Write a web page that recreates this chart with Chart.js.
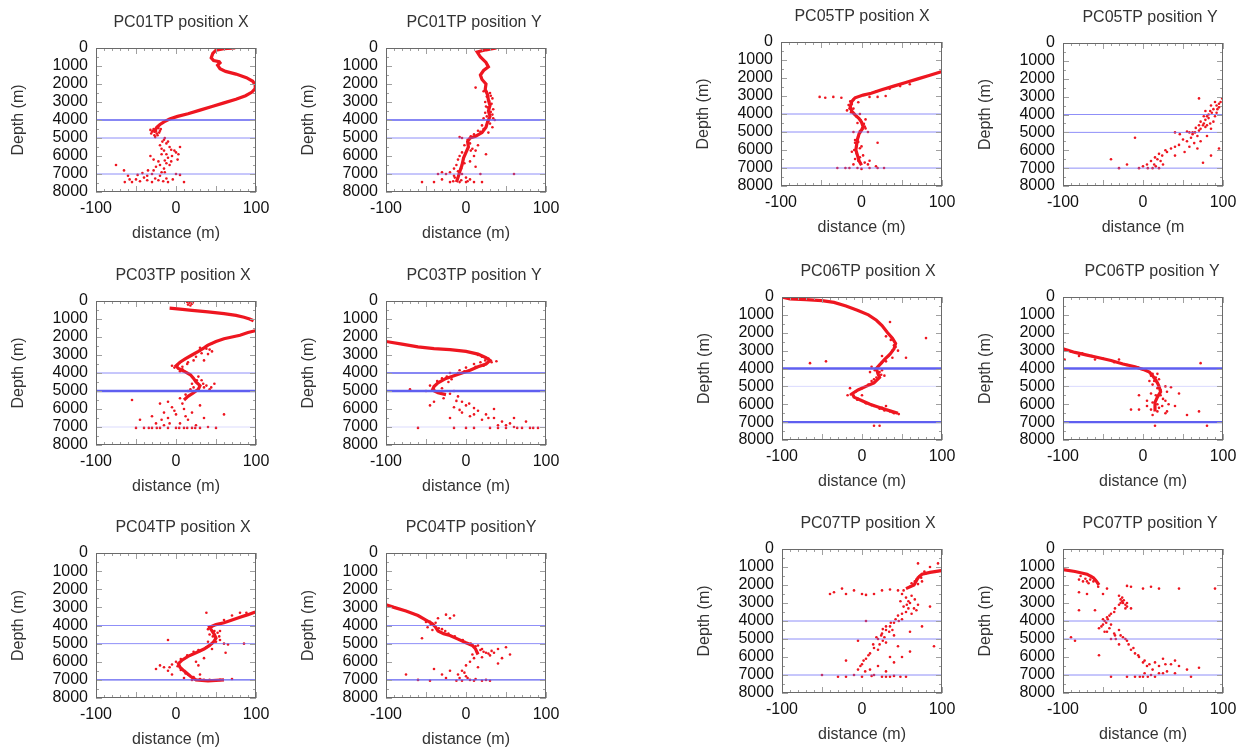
<!DOCTYPE html>
<html>
<head>
<meta charset="utf-8">
<script src="https://cdn.jsdelivr.net/npm/chart.js@4.4.1/dist/chart.umd.min.js"></script>
<style>
  body { margin: 0; background: #fff; overflow: hidden; width: 1258px; height: 754px; position: relative; }
  canvas { position: absolute; }
</style>
</head>
<body>
<script>
// axis ranges and reference depths (m)
const distRange = [-100, 100];
const depthRange = [0, 8000];
const markerDepths = [4000, 5000, 7000];

// [distance, depth] pairs
const pc01xPath = [[74,0],[60,40],[50,120],[46,300],[44,550],[47,700],[54,760],[55,820],[52,950],[55,1150],[62,1300],[75,1450],[88,1650],[96,1850],[99,2050],[99,2250],[95,2450],[87,2650],[75,2850],[60,3050],[45,3250],[30,3450],[15,3650],[2,3800],[-8,3950],[-15,4100],[-20,4250],[-24,4400],[-26,4550],[-25,4700]];
const pc01xCloud = [[-28,4500],[-22,4450],[-30,4650],[-24,4750],[-27,4850],[-20,4600],[-32,4550],[-26,4950],[-15,5100],[-12,5300],[-20,5400],[-8,5500],[5,5500],[-15,5700],[0,5800],[-5,6000],[-18,5900],[-10,6100],[2,6200],[-22,6300],[-12,6400],[-25,6600],[-15,6700],[-8,6500],[-35,6800],[-30,7000],[-20,7100],[-40,7200],[-50,7300],[-60,7100],[-65,6800],[-64,7450],[-55,7450],[-45,7400],[-30,7450],[-22,7350],[-10,7450],[0,7000],[5,7050],[10,7450],[-75,6500],[-28,6200],[-32,6000],[-18,6900],[-36,7100],[-12,7250],[-17,5200],[-6,5650],[3,5900],[-14,6250],[-26,7250],[-48,7050],
  [-23,4400],[-29,4600],[-21,4700],[-25,4550],[-31,4750],[-19,4500],[-27,4650],[-23,4850],[-14,5000],[-10,5200],[-18,5600],[-2,5700],[-12,5900],[-6,6300],[-20,6500],[-28,6800],[-14,6900],[-42,6950],[-58,7300],[-36,7350],[-16,7400],[-4,7300]];

const pc01yPath = [[38,0],[25,100],[14,220],[18,500],[25,800],[28,1050],[22,1250],[18,1500],[20,1750],[25,2000],[24,2300],[27,2600],[28,2900],[30,3200],[28,3500],[30,3800],[27,4100],[25,4400],[20,4700],[12,4900],[5,5000],[2,5200],[3,5500],[0,5800],[-3,6100],[-5,6500],[-8,6900],[-10,7200],[-12,7450]];
const pc01yCloud = [[22,2400],[30,2500],[26,2700],[33,2800],[24,3000],[32,3100],[27,3300],[34,3400],[24,3600],[33,3700],[22,3900],[36,4000],[30,4200],[20,4300],[33,4400],[15,4600],[28,4700],[10,4800],[-5,5000],[-8,4950],[5,5300],[8,5600],[12,5700],[-5,5800],[10,6000],[-10,6200],[5,6300],[-12,6500],[-15,6700],[-20,6900],[-25,7000],[-15,7100],[-5,7000],[0,7200],[5,7300],[10,7450],[20,7450],[-30,7300],[-20,7450],[-40,7450],[-55,7450],[-30,6900],[12,6600],[18,7000],[25,5900],[15,5400],[60,7000],[-8,7450],[0,7450],[12,2200],[-35,7000],
  [26,2450],[31,2650],[29,2950],[25,3250],[31,3550],[26,3800],[34,3900],[28,4050],[22,4500],[18,4650],[6,4900],[2,5100],[-2,5400],[6,5700],[-8,6000],[-2,6400],[-6,6700],[-10,6850],[-14,7200],[-6,7350],[2,7400],[-16,7400]];

const pc03xTop = [[14,50],[17,100],[20,150],[15,200],[18,250],[21,80]];
const pc03xPathA = [[-8,400],[5,450],[20,520],[40,600],[60,700],[75,800],[85,900],[92,1000],[97,1100]];
const pc03xPathB = [[99,1650],[90,1750],[80,1900],[70,2000],[60,2100],[50,2250],[40,2450],[35,2600],[28,2800],[20,3000],[12,3200],[5,3400],[0,3600],[3,3750],[10,3900],[18,4100],[22,4300],[25,4500],[30,4700],[28,4900],[22,5100],[15,5300],[10,5500]];
const pc03xCloud = [[38,2500],[42,2700],[32,2900],[45,2800],[25,3100],[35,3300],[15,3400],[8,3650],[-5,3600],[5,3900],[28,4200],[32,4400],[20,4600],[35,4800],[42,4900],[15,5000],[48,4600],[5,5400],[-10,5600],[-20,5700],[-5,5900],[10,6000],[-15,6200],[0,6300],[20,6200],[30,5800],[-30,6400],[-10,6500],[15,6600],[35,6500],[-25,6800],[5,6800],[25,6900],[-40,7050],[-30,7050],[-20,7050],[-10,7050],[0,7050],[10,7050],[20,7050],[30,7050],[50,7050],[-50,7050],[-45,6600],[60,6300],[-55,5500],[-15,6900],[40,7000],[30,2600],[22,4800],
  [45,2350],[38,2650],[30,2750],[40,2950],[22,3300],[14,3500],[-2,3700],[2,3550],[8,3800],[26,4400],[34,4600],[38,4700],[44,4800],[18,4900],[12,5200],[8,5700],[-2,6100],[-18,6600],[12,6400],[-8,6800],[-34,7050],[-24,7050],[4,7050],[14,7050],[24,7050]];

const pc03yPath = [[-100,2250],[-80,2400],[-60,2550],[-40,2650],[-20,2700],[0,2800],[15,2950],[25,3150],[30,3300],[25,3500],[15,3650],[5,3850],[-5,4000],[-15,4150],[-25,4300],[-35,4550],[-40,4750],[-42,4950],[-35,5100],[-25,5200]];
const pc03yCloud = [[20,3100],[28,3200],[18,3400],[32,3400],[10,3500],[22,3600],[0,3700],[-8,3850],[-20,4000],[-12,4100],[-30,4300],[-22,4500],[-45,4700],[-30,4850],[-15,5000],[-50,5000],[-10,5300],[-28,5400],[-5,5600],[0,5800],[-15,5900],[10,5950],[-5,6200],[5,6400],[15,6100],[25,6300],[20,6600],[35,6500],[45,6700],[40,6900],[55,6800],[60,7000],[70,7050],[80,7050],[90,7050],[50,7050],[30,7050],[0,7050],[-15,7050],[35,6000],[-45,5800],[-60,7050],[-70,4900],[-40,5600],[60,6500],[75,6700],[-20,6500],[38,3350],
  [15,3000],[24,3300],[12,3650],[-2,3900],[-10,4000],[-24,4200],[-18,4350],[-36,4450],[-40,4900],[-32,5050],[-20,5150],[-12,5550],[4,5700],[-8,6050],[10,6300],[28,6500],[50,6900],[64,7050],[84,7050],[40,7050],[10,7050]];

const pc04xPath = [[99,3250],[90,3400],[80,3550],[70,3700],[60,3850],[50,3950],[42,4100],[45,4300],[48,4500],[50,4700],[47,4900],[42,5100],[35,5300],[25,5500],[15,5700],[8,5900],[3,6100],[5,6300],[10,6500],[18,6800],[25,7000],[40,7050],[60,7000]];
const pc04xCloud = [[40,4200],[52,4400],[46,4600],[55,4800],[60,5000],[40,4900],[30,5400],[20,5600],[35,5800],[25,6000],[28,6200],[-5,6150],[-15,6300],[-25,6400],[-10,6500],[-5,6700],[10,6900],[15,6700],[30,6700],[35,7000],[50,7050],[70,6950],[80,3300],[85,5000],[38,3300],[62,5500],[-10,4800],[55,4300],[65,5050],[45,5300],
  [44,4100],[48,4300],[42,4500],[54,4600],[50,4900],[45,5000],[38,5200],[28,5350],[22,5450],[14,5650],[6,5850],[0,6000],[2,6250],[6,6450],[12,6650],[22,6850],[30,6950],[42,7000],[55,7000],[20,7000],[70,3450],[88,3300],[60,3700],[-8,6300],[-20,6200]];

const pc04yPath = [[-100,2850],[-90,3000],[-75,3200],[-60,3450],[-50,3700],[-42,3900],[-38,4100],[-35,4300],[-28,4450],[-20,4550],[-10,4750],[0,4950],[8,5100],[12,5300],[15,5600]];
const pc04yCloud = [[-45,3800],[-40,4000],[-35,3600],[-30,4200],[-48,4100],[-25,3400],[-20,3600],[15,5100],[20,5300],[25,5500],[30,5650],[35,5500],[40,5300],[45,5800],[50,5200],[10,5800],[5,6000],[0,6200],[-5,6500],[-10,6700],[0,6800],[5,7000],[-5,7050],[10,7050],[20,7050],[25,7000],[30,7050],[-20,6500],[-30,6700],[-40,6400],[-45,7050],[-60,7000],[-75,6700],[15,6300],[40,6100],[55,5600],[-55,4700],[-15,3450],
  [-50,3800],[-44,3950],[-38,3850],[-34,4150],[-42,4250],[-26,4300],[-22,4450],[-14,4600],[-4,4800],[6,5000],[12,5150],[18,5350],[22,5450],[28,5550],[32,5400],[14,5500],[8,5600],[20,5750],[-8,6900],[2,6900],[12,6950],[-12,7050],[-2,6600],[-25,6900]];

const pc05xPath = [[99,1650],[85,1850],[70,2050],[55,2250],[40,2450],[25,2650],[12,2850],[2,2950],[-8,3100],[-12,3300],[-14,3600],[-12,3850],[-8,4050],[-3,4250],[0,4450],[2,4700],[0,4900],[-3,5100],[-5,5400],[-6,5700],[-7,6000],[-5,6300],[-3,6600],[0,6850]];
const pc05xCloud = [[-52,3050],[-45,3100],[-35,3050],[-25,3100],[10,3050],[20,3050],[30,3000],[-10,3200],[-16,3500],[-10,3700],[-18,3800],[5,4300],[-5,4500],[5,4800],[8,5000],[-10,5000],[-8,5600],[0,5800],[-12,6100],[2,6300],[-8,6500],[10,6600],[18,6900],[20,7000],[28,7000],[-30,7000],[-15,7000],[0,7050],[8,6800],[-10,6800],[20,5600],[-4,3350],[-2,4000],
  [-14,3300],[-12,3450],[-15,3700],[-13,3900],[-6,4150],[-1,4350],[3,4550],[4,4700],[1,4850],[-2,4950],[-4,5250],[-8,5450],[-4,5550],[-2,5900],[-9,6000],[-6,6200],[-2,6400],[-4,6600],[-1,6750],[4,6700],[-20,7000],[10,7000],[-5,7000],[60,2350],[48,2450],[35,2600],[18,2750]];

const pc05yCloud = [[99,3100],[95,3400],[88,3700],[82,4000],[78,4300],[75,4600],[70,4900],[62,5000],[90,3300],[85,3500],[95,3600],[78,3800],[92,3900],[82,4200],[88,4400],[72,4400],[78,4700],[85,4800],[70,4600],[65,5000],[55,4950],[40,5000],[60,5300],[50,5400],[45,5700],[58,5800],[68,5900],[72,5500],[35,5900],[30,6100],[20,6200],[15,6400],[10,6600],[5,6800],[12,7000],[20,7000],[25,6800],[0,6900],[-5,7000],[-20,6800],[-30,7000],[-40,6500],[95,5900],[85,6300],[75,6700],[70,3100],[-10,5300],[40,6300],[52,6100],[80,5200],[86,3900],[76,4500],[80,4100],[92,3500],
  [97,3300],[93,3700],[84,3800],[90,4100],[76,4100],[84,4500],[80,4600],[72,4800],[66,4750],[58,5000],[46,5100],[62,5100],[68,5200],[55,5500],[64,5600],[40,5800],[28,6000],[24,6300],[18,6500],[14,6800],[6,7000],[16,6900],[22,6600]];

const pc06xPath = [[-100,0],[-90,100],[-70,150],[-50,200],[-35,300],[-20,500],[-5,750],[8,1000],[18,1300],[25,1600],[32,2000],[38,2300],[42,2600],[40,2900],[35,3200],[28,3500],[22,3800],[18,4000],[20,4300],[22,4500],[15,4800],[5,5000],[-5,5200],[-12,5400],[-10,5600],[0,5800],[10,6000],[20,6150],[30,6300],[45,6500]];
const pc06xCloud = [[35,1400],[42,2800],[45,3000],[38,3400],[25,3300],[12,3900],[25,4100],[10,4200],[28,4400],[15,4600],[-18,5500],[-5,5700],[5,5950],[15,6100],[25,6200],[35,6400],[40,6500],[30,6100],[-45,3600],[-65,3700],[55,3400],[80,2300],[15,7200],[22,7200],[0,5500],[-15,5100],
  [30,2200],[36,2400],[40,2700],[38,3000],[33,3300],[30,3600],[24,3700],[20,3900],[16,4100],[22,4200],[24,4350],[18,4500],[12,4700],[8,4900],[0,5100],[-8,5300],[-14,5450],[-6,5750],[4,5900],[12,6050],[22,6250],[28,6350],[38,6450],[46,6550]];

const pc06yPath = [[-100,2900],[-85,3100],[-70,3250],[-55,3400],[-40,3550],[-25,3750],[-10,3900],[0,4050],[8,4200],[12,4400],[15,4600],[18,4800],[20,5000],[22,5300],[18,5600],[15,5900],[15,6400]];
const pc06yCloud = [[-98,3500],[-80,3300],[-60,3500],[-30,3500],[10,4400],[18,4300],[8,4700],[20,4600],[28,5000],[35,5050],[30,5300],[10,5400],[5,5800],[25,5700],[32,6000],[40,6100],[45,5400],[20,6200],[5,6100],[-5,6300],[-15,6300],[12,6600],[30,6400],[55,6600],[70,6400],[72,3700],[80,7200],[15,7200],[-5,5500],
  [-90,3050],[-76,3150],[-64,3300],[-50,3450],[-36,3650],[-20,3800],[-6,3950],[4,4100],[12,4300],[16,4500],[14,4700],[12,4900],[18,5100],[22,5200],[16,5500],[22,5500],[28,5800],[12,5900],[18,6000],[24,6100],[10,6300],[18,6400],[28,6500]];

const pc07xPath = [[99,1200],[85,1300],[75,1400],[70,1600],[65,2000],[55,2200]];
const pc07xCloud = [[80,1350],[72,1500],[68,1700],[75,1800],[62,1900],[85,1000],[70,800],[95,800],[-40,2500],[-35,2400],[-25,2200],[-20,2500],[-10,2300],[0,2500],[5,2550],[15,2500],[25,2300],[35,2250],[45,2300],[50,2500],[55,2700],[48,2900],[60,3000],[70,3100],[65,3300],[55,3500],[45,3700],[50,3900],[40,4100],[35,4300],[30,4500],[25,4700],[40,4800],[20,5000],[30,5200],[15,5500],[10,5800],[5,6100],[0,6400],[-5,6700],[10,6700],[20,6500],[30,6800],[40,6300],[50,6000],[60,5700],[45,5400],[35,6000],[25,7100],[30,7100],[0,7100],[-10,7000],[-20,7100],[-30,7100],[-50,7000],[15,7000],[40,7050],[55,7100],[85,3200],[90,5400],[75,4300],[-5,5100],[60,4600],[5,4000],[-20,6200],[58,2900],[52,3200],[62,3600],[38,4500],[28,4900],[22,5300],
  [78,1250],[74,1600],[66,1800],[70,1950],[60,2100],[52,2300],[62,2600],[66,2800],[56,3100],[68,3400],[58,3300],[50,3600],[42,3900],[46,4000],[36,4100],[30,4300],[26,4450],[34,4600],[24,4800],[18,4900],[26,5100],[14,5300],[20,5600],[8,5900],[2,6200],[-2,6500],[4,6800],[12,7050],[35,7100],[48,7100]];

const pc07yPath = [[-100,1150],[-85,1250],[-70,1400],[-62,1600],[-58,1800],[-55,2000]];
const pc07yCloud = [[-80,1700],[-75,1800],[-65,1500],[-68,1900],[-60,1700],[-45,2200],[-20,2050],[-15,2100],[0,2200],[10,2100],[20,2200],[45,2200],[-80,2400],[-70,2500],[-50,2500],[-30,2600],[-28,2800],[-25,3000],[-20,3200],[-30,3100],[-15,3300],[-35,3300],[-60,3400],[-80,3400],[-40,3600],[-45,3800],[-48,4000],[-40,4200],[-55,4400],[-45,4600],[-35,4800],[-30,4500],[-25,4900],[-20,5100],[-30,5300],[-40,5000],[-15,5600],[-10,5800],[-5,6000],[0,6300],[5,6500],[15,6300],[25,6100],[35,6400],[40,6200],[45,6500],[30,6800],[20,6900],[10,7000],[0,7100],[-10,7100],[-20,7100],[-40,7100],[15,7100],[25,6900],[40,6900],[55,6700],[60,7100],[70,6600],[-85,5100],[-55,5900],[90,2200],[-90,4900],[-26,2900],[-22,3100],[-44,3900],[-50,4200],
  [-78,1500],[-72,1650],[-66,1700],[-62,1800],[-70,1800],[-56,2100],[-26,2700],[-24,2850],[-28,3000],[-20,3000],[-22,3300],[-36,3500],[-42,3700],[-50,3900],[-46,4100],[-52,4300],[-42,4400],[-48,4600],[-36,4700],[-28,4800],[-22,5000],[-34,5000],[-18,5300],[-12,5500],[-6,5900],[2,6200],[8,6400],[20,6500],[28,6400],[12,6700],[2,6900],[6,7100],[-4,7100]];

// layout: plot box [left, top, right, bottom] on the page, title centre x, marker line weights
const panels = [
  { title: 'PC01TP position X', paths: [pc01xPath], cloud: pc01xCloud, box: [96, 48, 256, 192], titleX: 181, lines: [2, 1, 1] },
  { title: 'PC01TP position Y', paths: [pc01yPath], cloud: pc01yCloud, box: [386, 48, 546, 192], titleX: 474, lines: [2, 1, 1] },
  { title: 'PC03TP position X', paths: [pc03xPathA, pc03xPathB], cloud: pc03xTop.concat(pc03xCloud), box: [96, 301, 256, 445], titleX: 183, lines: [1, 3, 0] },
  { title: 'PC03TP position Y', paths: [pc03yPath], cloud: pc03yCloud, box: [386, 301, 546, 445], titleX: 474, lines: [2, 3, 0] },
  { title: 'PC04TP position X', paths: [pc04xPath], cloud: pc04xCloud, box: [96, 553, 256, 698], titleX: 183, lines: [1, 1, 2] },
  { title: 'PC04TP positionY', paths: [pc04yPath], cloud: pc04yCloud, box: [386, 553, 546, 698], titleX: 471, lines: [1, 1, 2] },
  { title: 'PC05TP position X', paths: [pc05xPath], cloud: pc05xCloud, box: [781, 42, 942, 186], titleX: 862, lines: [1, 1, 1] },
  { title: 'PC05TP position Y', paths: [], cloud: pc05yCloud, box: [1063, 43, 1223, 186], titleX: 1150, lines: [1, 1, 1], xTitle: 'distance (m' },
  { title: 'PC06TP position X', paths: [pc06xPath], cloud: pc06xCloud, box: [782, 297, 942, 440], titleX: 868, lines: [3, 0, 3] },
  { title: 'PC06TP position Y', paths: [pc06yPath], cloud: pc06yCloud, box: [1063, 297, 1223, 440], titleX: 1152, lines: [3, 0, 3] },
  { title: 'PC07TP position X', paths: [pc07xPath], cloud: pc07xCloud, box: [782, 549, 942, 693], titleX: 868, lines: [1, 1, 1] },
  { title: 'PC07TP position Y', paths: [pc07yPath], cloud: pc07yCloud, box: [1063, 549, 1223, 693], titleX: 1150, lines: [1, 1, 1] }
];

const RED = 'rgb(238,22,32)';
const lineStyle = [
  { w: 0.8, c: 'rgba(150,150,250,0.45)' },
  { w: 1, c: 'rgba(105,105,245,0.75)' },
  { w: 1.4, c: 'rgb(95,95,240)' },
  { w: 2.4, c: 'rgb(95,95,240)' }
];
const FONT = "'Liberation Sans', Arial, sans-serif";

// frame box plus inward ticks, drawn from the chart's own scales
const frameTicks = {
  id: 'frameTicks',
  afterDraw(chart) {
    const { ctx, chartArea: a, scales: { x, y } } = chart;
    ctx.save();
    ctx.strokeStyle = '#a0a0a0';
    ctx.lineWidth = 1;
    ctx.beginPath();
    for (let v = distRange[0]; v <= distRange[1]; v += 10) {
      const px = Math.round(x.getPixelForValue(v)) + 0.5;
      const len = v % 50 === 0 ? 6 : 3;
      ctx.moveTo(px, a.top); ctx.lineTo(px, a.top + len);
      ctx.moveTo(px, a.bottom); ctx.lineTo(px, a.bottom - len);
    }
    for (let d = depthRange[0]; d <= depthRange[1]; d += 500) {
      const py = Math.round(y.getPixelForValue(d)) + 0.5;
      const len = d % 1000 === 0 ? 6 : 3;
      ctx.moveTo(a.left, py); ctx.lineTo(a.left + len, py);
      ctx.moveTo(a.right, py); ctx.lineTo(a.right - len, py);
    }
    ctx.stroke();
    ctx.strokeStyle = '#6a6a6a';
    ctx.strokeRect(Math.round(a.left) + 0.5, Math.round(a.top) + 0.5, Math.round(a.width) - 1, Math.round(a.height) - 1);
    ctx.restore();
  }
};

const toXY = pts => pts.map(p => ({ x: p[0], y: p[1] }));

panels.forEach(p => {
  const [L, T, R, B] = p.box;
  const yw = 96, top = 48, xh = 55;
  const rw = Math.max(20, 2 * (p.titleX - L + yw) - yw - (R - L));
  const cv = document.createElement('canvas');
  cv.width = yw + (R - L) + rw;
  cv.height = top + (B - T) + xh;
  cv.style.left = (L - yw) + 'px';
  cv.style.top = (T - top) + 'px';
  document.body.appendChild(cv);

  const datasets = [];
  markerDepths.forEach((d, i) => {
    const s = lineStyle[p.lines[i]];
    datasets.push({ data: [{ x: distRange[0], y: d }, { x: distRange[1], y: d }], showLine: true, pointRadius: 0, borderColor: s.c, borderWidth: s.w, order: 0 });
  });
  p.paths.forEach(path => {
    datasets.push({ data: toXY(path), showLine: true, pointRadius: 0, borderColor: RED, borderWidth: 3.2, tension: 0, order: 1 });
  });
  datasets.push({ data: toXY(p.cloud), pointRadius: 1.3, pointBorderWidth: 0, backgroundColor: RED, order: 1 });

  new Chart(cv, {
    type: 'scatter',
    data: { datasets },
    options: {
      responsive: false,
      animation: false,
      devicePixelRatio: 1,
      layout: { padding: 0 },
      plugins: {
        legend: { display: false },
        tooltip: { enabled: false },
        title: {
          display: true, text: p.title, color: '#333',
          font: { family: FONT, size: 16, weight: 'normal', lineHeight: 1.2 },
          padding: { top: 13.4, bottom: 15.4 }
        }
      },
      scales: {
        x: {
          type: 'linear', min: distRange[0], max: distRange[1],
          afterFit: s => { s.height = xh; },
          grid: { display: false, drawTicks: false },
          border: { display: false },
          ticks: { stepSize: 100, autoSkip: false, padding: 7, color: '#111', font: { family: FONT, size: 16 }, callback: v => String(v), maxRotation: 0 },
          title: { display: true, text: p.xTitle || 'distance (m)', color: '#333', font: { family: FONT, size: 16 }, padding: { top: 0, bottom: 3.4 } }
        },
        y: {
          type: 'linear', reverse: true, min: depthRange[0], max: depthRange[1],
          afterFit: s => { s.width = yw; },
          grid: { display: false, drawTicks: false },
          border: { display: false },
          ticks: { stepSize: 1000, autoSkip: false, padding: 8, color: '#111', font: { family: FONT, size: 16 }, callback: v => String(v) },
          title: { display: true, text: 'Depth (m)', color: '#333', font: { family: FONT, size: 16 }, padding: { top: 9.4, bottom: 0 } }
        },
        yR: {
          type: 'linear', position: 'right', display: true,
          afterFit: s => { s.width = rw; },
          grid: { display: false, drawTicks: false },
          border: { display: false },
          ticks: { display: false }
        }
      }
    },
    plugins: [frameTicks]
  });
});
</script>
</body>
</html>
